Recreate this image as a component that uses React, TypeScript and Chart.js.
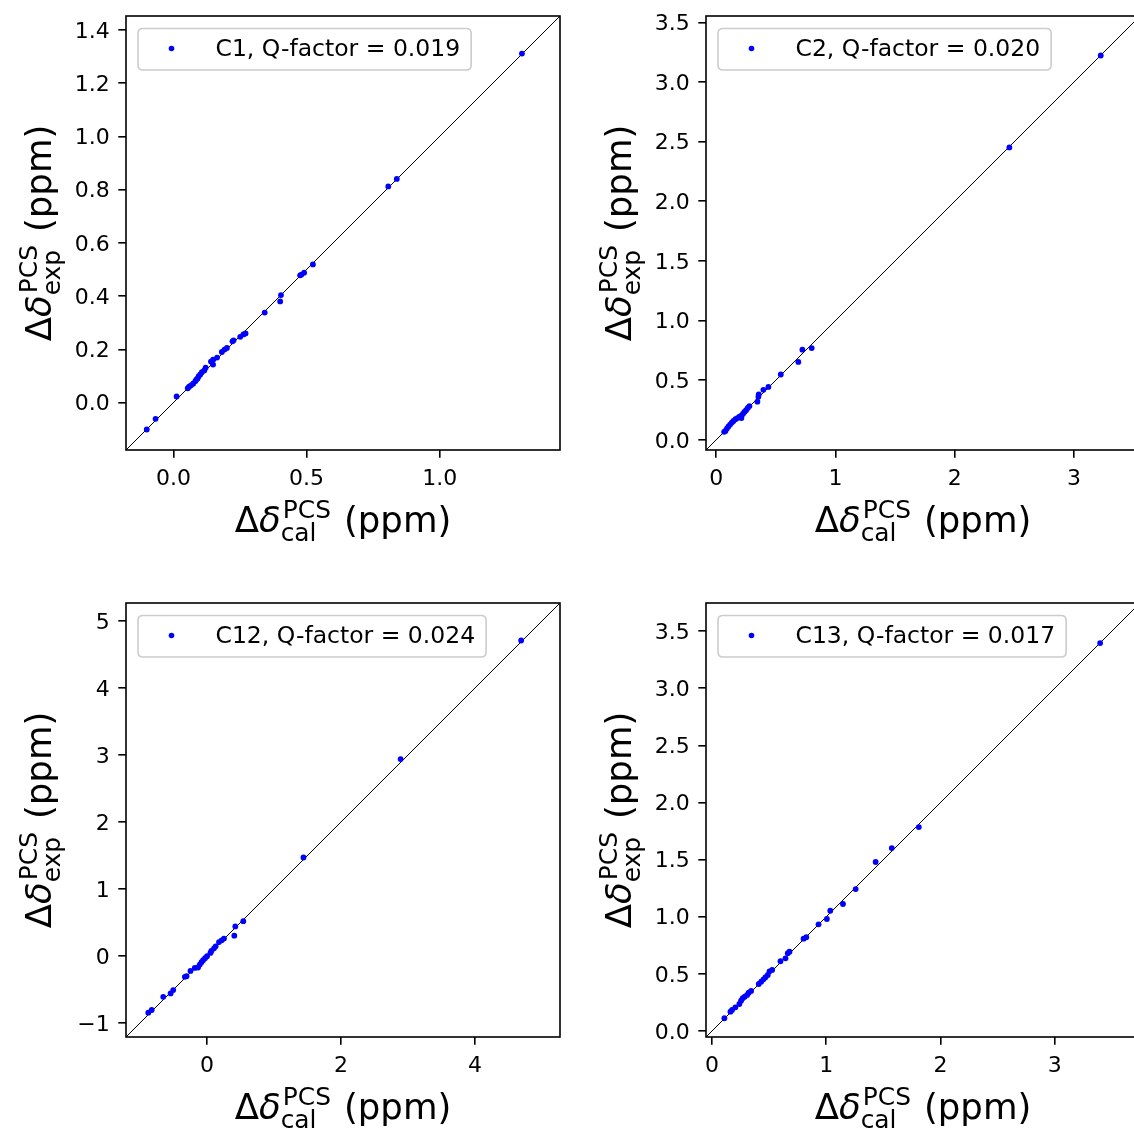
import React, { useEffect, useRef } from "react";
import { Chart, registerables } from "chart.js";

Chart.register(...registerables);

// ---------------- data ----------------
const c1X = [1.309, 0.839, 0.807, 0.524, 0.491, 0.481, 0.476, 0.404, 0.401, 0.343, 0.271, 0.263, 0.251, 0.226, 0.222, 0.201, 0.192, 0.182, 0.164, 0.149, 0.141, 0.149, 0.121, 0.116, 0.107, 0.101, 0.095, 0.091, 0.086, 0.082, 0.074, 0.066, 0.059, 0.054, 0.012, -0.067, -0.1];
const c1Y = [1.311, 0.84, 0.812, 0.519, 0.488, 0.481, 0.478, 0.404, 0.38, 0.338, 0.26, 0.256, 0.247, 0.234, 0.23, 0.205, 0.199, 0.19, 0.169, 0.161, 0.154, 0.143, 0.131, 0.121, 0.114, 0.106, 0.099, 0.091, 0.086, 0.08, 0.071, 0.065, 0.06, 0.054, 0.023, -0.061, -0.101];

const c2X = [3.224, 2.458, 0.801, 0.723, 0.689, 0.542, 0.438, 0.396, 0.357, 0.354, 0.346, 0.279, 0.265, 0.251, 0.237, 0.224, 0.209, 0.212, 0.195, 0.178, 0.162, 0.145, 0.131, 0.117, 0.103, 0.09, 0.078, 0.067];
const c2Y = [3.222, 2.451, 0.769, 0.756, 0.653, 0.548, 0.444, 0.419, 0.381, 0.361, 0.32, 0.283, 0.267, 0.248, 0.234, 0.217, 0.2, 0.183, 0.195, 0.183, 0.173, 0.158, 0.145, 0.128, 0.112, 0.095, 0.075, 0.067];

const c12X = [4.69, 2.89, 1.44, 0.541, 0.422, 0.407, 0.253, 0.218, 0.178, 0.129, 0.104, 0.065, 0.05, 0.0, -0.03, -0.059, -0.083, -0.108, -0.134, -0.183, -0.247, -0.306, -0.331, -0.505, -0.544, -0.654, -0.826, -0.877];
const c12Y = [4.71, 2.94, 1.47, 0.52, 0.441, 0.303, 0.259, 0.233, 0.208, 0.144, 0.114, 0.074, 0.045, -0.004, -0.034, -0.064, -0.094, -0.128, -0.172, -0.178, -0.223, -0.302, -0.312, -0.51, -0.559, -0.61, -0.807, -0.847];

const c13X = [3.397, 1.81, 1.573, 1.432, 1.257, 1.146, 1.035, 1.005, 0.932, 0.825, 0.801, 0.678, 0.663, 0.643, 0.599, 0.526, 0.503, 0.488, 0.468, 0.45, 0.43, 0.409, 0.342, 0.321, 0.307, 0.286, 0.268, 0.254, 0.239, 0.204, 0.175, 0.161, 0.108];
const c13Y = [3.395, 1.785, 1.601, 1.479, 1.242, 1.111, 1.052, 0.98, 0.933, 0.82, 0.808, 0.694, 0.68, 0.636, 0.61, 0.534, 0.522, 0.49, 0.47, 0.452, 0.431, 0.411, 0.35, 0.335, 0.315, 0.3, 0.286, 0.265, 0.236, 0.207, 0.184, 0.169, 0.111];

// axis limits (same for x and y in each panel)
const c1Lim = [-0.178, 1.452];
const c2Lim = [-0.085, 3.553];
const c12Lim = [-1.21, 5.27];
const c13Lim = [-0.053, 3.746];

// ticks
const c1XTicks = [0, 0.5, 1.0];
const c1XTickLabels = ["0.0", "0.5", "1.0"];
const c1YTicks = [0, 0.2, 0.4, 0.6, 0.8, 1.0, 1.2, 1.4];
const c1YTickLabels = ["0.0", "0.2", "0.4", "0.6", "0.8", "1.0", "1.2", "1.4"];

const c2XTicks = [0, 1, 2, 3];
const c2XTickLabels = ["0", "1", "2", "3"];
const c2YTicks = [0, 0.5, 1.0, 1.5, 2.0, 2.5, 3.0, 3.5];
const c2YTickLabels = ["0.0", "0.5", "1.0", "1.5", "2.0", "2.5", "3.0", "3.5"];

const c12XTicks = [0, 2, 4];
const c12XTickLabels = ["0", "2", "4"];
const c12YTicks = [-1, 0, 1, 2, 3, 4, 5];
const c12YTickLabels = ["\u22121", "0", "1", "2", "3", "4", "5"];

const c13XTicks = [0, 1, 2, 3];
const c13XTickLabels = ["0", "1", "2", "3"];
const c13YTicks = [0, 0.5, 1.0, 1.5, 2.0, 2.5, 3.0, 3.5];
const c13YTickLabels = ["0.0", "0.5", "1.0", "1.5", "2.0", "2.5", "3.0", "3.5"];

const legendLabels = [
  "C1, Q-factor = 0.019",
  "C2, Q-factor = 0.020",
  "C12, Q-factor = 0.024",
  "C13, Q-factor = 0.017",
];

// ---------------- styling ----------------
const FAMILY = '"DejaVu Sans", sans-serif';
const TICK_F = 22;
const LEG_F = 23.5;
const LAB_F = 35.5;
const SPINE_W = 1.6;

type Area = { l: number; t: number; r: number; b: number };

function drawMathLabel(
  ctx: CanvasRenderingContext2D,
  sub: string,
  rotated: boolean,
  px: number,
  py: number
) {
  const F = LAB_F;
  const fN = `${F}px ${FAMILY}`;
  const fI = `italic ${F}px ${FAMILY}`;
  const fS = `${F * 0.7}px ${FAMILY}`;
  const m = (t: string, f: string) => {
    ctx.font = f;
    return ctx.measureText(t).width;
  };
  const wD = m("\u0394", fN);
  const wd = m("\u03B4", fI);
  const wSup = m("PCS", fS);
  const wSub = m(sub, fS);
  const wSp = m(" ", fN);
  const wP = m("(ppm)", fN);
  const scriptW = Math.max(wSup + 0.06 * F, wSub) + 0.05 * F;
  const total = wD + wd + scriptW + wSp + wP;
  ctx.save();
  ctx.fillStyle = "#000";
  ctx.textBaseline = "alphabetic";
  ctx.textAlign = "left";
  ctx.translate(px, py);
  if (rotated) ctx.rotate(-Math.PI / 2);
  let x = -total / 2;
  ctx.font = fN;
  ctx.fillText("\u0394", x, 0);
  x += wD;
  ctx.font = fI;
  ctx.fillText("\u03B4", x, 0);
  x += wd;
  ctx.font = fS;
  ctx.fillText("PCS", x + 0.06 * F, -0.38 * F);
  ctx.fillText(sub, x, 0.27 * F);
  x += scriptW + wSp;
  ctx.font = fN;
  ctx.fillText("(ppm)", x, 0);
  ctx.restore();
}

type PanelProps = {
  xs: number[];
  ys: number[];
  lim: number[];
  xTicks: number[];
  xTickLabels: string[];
  yTicks: number[];
  yTickLabels: string[];
  legend: string;
  left: number;
  top: number;
  width: number;
  height: number;
  area: Area;
};

function Panel(p: PanelProps) {
  const ref = useRef<HTMLCanvasElement | null>(null);
  useEffect(() => {
    const canvas = ref.current;
    if (!canvas) return;
    const { area, width: W, height: H } = p;

    const decor = {
      id: "decor",
      afterDatasetsDraw(chart: any) {
        const ctx: CanvasRenderingContext2D = chart.ctx;
        const a = chart.chartArea;
        ctx.save();
        // frame
        ctx.strokeStyle = "#000";
        ctx.lineWidth = SPINE_W;
        ctx.strokeRect(a.left, a.top, a.right - a.left, a.bottom - a.top);
        // legend
        ctx.font = `${LEG_F}px ${FAMILY}`;
        const tw = ctx.measureText(p.legend).width;
        const bx = a.left + 12;
        const by = a.top + 12.5;
        const bw = 77.5 + tw + 11;
        const bh = 41.5;
        const r = 5;
        ctx.beginPath();
        ctx.moveTo(bx + r, by);
        ctx.lineTo(bx + bw - r, by);
        ctx.quadraticCurveTo(bx + bw, by, bx + bw, by + r);
        ctx.lineTo(bx + bw, by + bh - r);
        ctx.quadraticCurveTo(bx + bw, by + bh, bx + bw - r, by + bh);
        ctx.lineTo(bx + r, by + bh);
        ctx.quadraticCurveTo(bx, by + bh, bx, by + bh - r);
        ctx.lineTo(bx, by + r);
        ctx.quadraticCurveTo(bx, by, bx + r, by);
        ctx.closePath();
        ctx.fillStyle = "rgba(255,255,255,0.8)";
        ctx.fill();
        ctx.strokeStyle = "#cccccc";
        ctx.lineWidth = 1.6;
        ctx.stroke();
        ctx.fillStyle = "#0000ff";
        ctx.beginPath();
        ctx.arc(bx + 33.5, by + 20, 2.8, 0, Math.PI * 2);
        ctx.fill();
        ctx.fillStyle = "#000";
        ctx.textBaseline = "alphabetic";
        ctx.textAlign = "left";
        ctx.fillText(p.legend, bx + 77.5, by + 19 + 0.729 * LEG_F / 2);
        ctx.restore();
        // axis labels
        const cx = (a.left + a.right) / 2;
        const cy = (a.top + a.bottom) / 2;
        drawMathLabel(ctx, "cal", false, cx, a.bottom + 81.5);
        drawMathLabel(ctx, "exp", true, a.left - 75.5, cy);
      },
    };

    const tickFont = { size: TICK_F, family: FAMILY };
    const gridOpts = {
      display: true,
      drawOnChartArea: false,
      drawTicks: true,
      tickLength: 7.7,
      tickWidth: SPINE_W,
      tickColor: "#000",
      color: "#000",
      lineWidth: SPINE_W,
    };

    const chart = new Chart(canvas, {
      type: "scatter",
      data: {
        datasets: [
          {
            data: p.xs.map((x, i) => ({ x, y: p.ys[i] })),
            backgroundColor: "#0000ff",
            borderWidth: 0,
            pointRadius: 2.9,
            pointHoverRadius: 2.9,
          } as any,
          {
            type: "line",
            data: [
              { x: p.lim[0], y: p.lim[0] },
              { x: p.lim[1], y: p.lim[1] },
            ],
            borderColor: "#000",
            borderWidth: 1,
            pointRadius: 0,
            showLine: true,
            fill: false,
          } as any,
        ],
      },
      options: {
        animation: false,
        responsive: false,
        devicePixelRatio: 1,
        events: [],
        layout: {
          padding: { left: 0, top: area.t, right: W - area.r, bottom: 0 },
        },
        plugins: {
          legend: { display: false },
          tooltip: { enabled: false },
        },
        scales: {
          x: {
            type: "linear",
            min: p.lim[0],
            max: p.lim[1],
            afterBuildTicks: (s: any) => {
              s.ticks = p.xTicks.map((v) => ({ value: v }));
            },
            afterFit: (s: any) => {
              s.height = H - area.b;
              s.paddingLeft = 0;
              s.paddingRight = 0;
              s.paddingTop = 0;
              s.paddingBottom = 0;
            },
            ticks: {
              autoSkip: false,
              maxRotation: 0,
              minRotation: 0,
              padding: 8,
              color: "#000",
              font: tickFont,
              callback: (_v: any, i: number) => p.xTickLabels[i],
            },
            grid: gridOpts,
            border: { display: false },
          } as any,
          y: {
            type: "linear",
            min: p.lim[0],
            max: p.lim[1],
            afterBuildTicks: (s: any) => {
              s.ticks = p.yTicks.map((v) => ({ value: v }));
            },
            afterFit: (s: any) => {
              s.width = area.l;
              s.paddingLeft = 0;
              s.paddingRight = 0;
              s.paddingTop = 0;
              s.paddingBottom = 0;
            },
            ticks: {
              autoSkip: false,
              padding: 8.5,
              labelOffset: 2,
              color: "#000",
              font: tickFont,
              callback: (_v: any, i: number) => p.yTickLabels[i],
            },
            grid: gridOpts,
            border: { display: false },
          } as any,
        },
      },
      plugins: [decor as any],
    });
    return () => chart.destroy();
  }, []);

  return (
    <canvas
      ref={ref}
      width={p.width}
      height={p.height}
      style={{
        position: "absolute",
        left: p.left,
        top: p.top,
        width: p.width,
        height: p.height,
      }}
    />
  );
}

export default function App() {
  return (
    <div
      style={{
        position: "absolute",
        left: 0,
        top: 0,
        width: 1134,
        height: 1130,
        overflow: "hidden",
        background: "#fff",
      }}
    >
      <Panel
        xs={c1X}
        ys={c1Y}
        lim={c1Lim}
        xTicks={c1XTicks}
        xTickLabels={c1XTickLabels}
        yTicks={c1YTicks}
        yTickLabels={c1YTickLabels}
        legend={legendLabels[0]}
        left={0}
        top={0}
        width={567}
        height={565}
        area={{ l: 126, t: 16, r: 560, b: 450 }}
      />
      <Panel
        xs={c2X}
        ys={c2Y}
        lim={c2Lim}
        xTicks={c2XTicks}
        xTickLabels={c2XTickLabels}
        yTicks={c2YTicks}
        yTickLabels={c2YTickLabels}
        legend={legendLabels[1]}
        left={567}
        top={0}
        width={600}
        height={565}
        area={{ l: 139, t: 16, r: 573, b: 450 }}
      />
      <Panel
        xs={c12X}
        ys={c12Y}
        lim={c12Lim}
        xTicks={c12XTicks}
        xTickLabels={c12XTickLabels}
        yTicks={c12YTicks}
        yTickLabels={c12YTickLabels}
        legend={legendLabels[2]}
        left={0}
        top={565}
        width={567}
        height={565}
        area={{ l: 126, t: 38, r: 560, b: 472 }}
      />
      <Panel
        xs={c13X}
        ys={c13Y}
        lim={c13Lim}
        xTicks={c13XTicks}
        xTickLabels={c13XTickLabels}
        yTicks={c13YTicks}
        yTickLabels={c13YTickLabels}
        legend={legendLabels[3]}
        left={567}
        top={565}
        width={600}
        height={565}
        area={{ l: 139, t: 38, r: 573, b: 472 }}
      />
    </div>
  );
}
